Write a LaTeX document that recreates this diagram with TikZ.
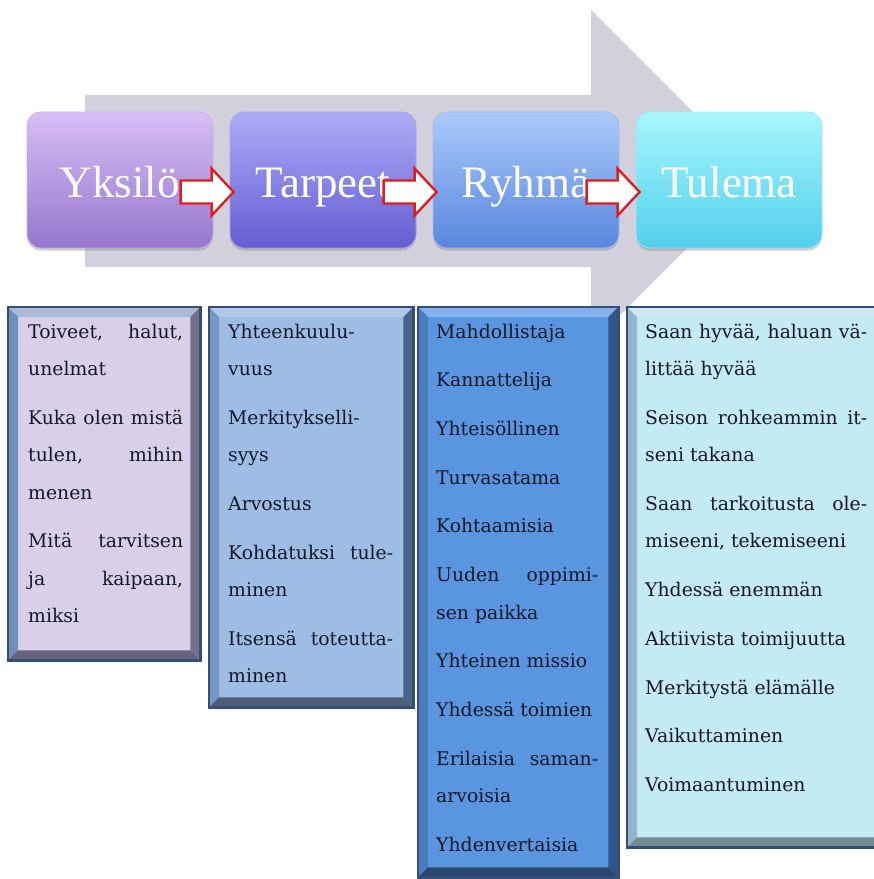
\documentclass[tikz,border=0pt]{standalone}
\usepackage{fontspec}
\setmainfont{DejaVu Serif}
\newfontfamily\headfont{Liberation Serif}
\usetikzlibrary{shadows,calc}
% header boxes
\definecolor{ykT}{RGB}{216,190,246}
\definecolor{ykB}{RGB}{150,118,204}
\definecolor{taT}{RGB}{174,172,248}
\definecolor{taB}{RGB}{100,92,210}
\definecolor{ryT}{RGB}{172,202,250}
\definecolor{ryB}{RGB}{88,134,222}
\definecolor{tuT}{RGB}{168,246,252}
\definecolor{tuB}{RGB}{82,208,236}
\definecolor{biggrey}{RGB}{211,208,222}
\definecolor{arrred}{RGB}{222,30,30}
\definecolor{txtcol}{RGB}{22,24,40}
% lower boxes
\definecolor{bAf}{RGB}{216,208,232}
\definecolor{bAt}{RGB}{172,184,214}
\definecolor{bAl}{RGB}{112,142,186}
\definecolor{bAr}{RGB}{116,112,140}
\definecolor{bAb}{RGB}{100,98,125}
\definecolor{bBf}{RGB}{158,189,228}
\definecolor{bBt}{RGB}{178,202,234}
\definecolor{bBl}{RGB}{118,150,196}
\definecolor{bBr}{RGB}{70,100,140}
\definecolor{bBb}{RGB}{78,94,122}
\definecolor{bCf}{RGB}{90,149,224}
\definecolor{bCt}{RGB}{132,176,236}
\definecolor{bCl}{RGB}{74,124,194}
\definecolor{bCr}{RGB}{50,84,138}
\definecolor{bCb}{RGB}{44,70,110}
\definecolor{bDf}{RGB}{196,234,244}
\definecolor{bDt}{RGB}{208,234,244}
\definecolor{bDl}{RGB}{146,182,204}
\definecolor{bDr}{RGB}{108,138,150}
\definecolor{bDb}{RGB}{116,140,146}
\definecolor{frame}{RGB}{52,78,116}
\newcommand\lowbevel[5]{%
  \fill[#2] (#1.north west) -- (#1.north east) -- ([shift={(-10pt,-10pt)}]#1.north east) -- ([shift={(10pt,-10pt)}]#1.north west) -- cycle;
  \fill[#3] (#1.north west) -- ([shift={(10pt,-10pt)}]#1.north west) -- ([shift={(10pt,10pt)}]#1.south west) -- (#1.south west) -- cycle;
  \fill[#4] (#1.north east) -- ([shift={(-10pt,-10pt)}]#1.north east) -- ([shift={(-10pt,10pt)}]#1.south east) -- (#1.south east) -- cycle;
  \fill[#5] (#1.south west) -- ([shift={(10pt,10pt)}]#1.south west) -- ([shift={(-10pt,10pt)}]#1.south east) -- (#1.south east) -- cycle;
  \draw[frame, line width=2.5pt] (#1.north west) rectangle (#1.south east);
}
\newcommand\redarr[1]{%
  \coordinate (tip) at ([shift={(4pt,-12pt)}]#1.west);
  \draw[redarrow] ($(tip)+(-53,-11.5)$) -- ($(tip)+(-22,-11.5)$) -- ($(tip)+(-22,-23.5)$) -- (tip)
     -- ($(tip)+(-22,23.5)$) -- ($(tip)+(-22,11.5)$) -- ($(tip)+(-53,11.5)$) -- cycle;
}
\newcommand\jl[1]{\makebox[\linewidth][s]{#1}}
\newcommand\txtsetup{\fontsize{18.8}{37.5}\selectfont\raggedright\setlength\parskip{11.2pt}\setlength\parindent{0pt}}
\begin{document}
\begin{tikzpicture}[x=1pt,y=-1pt,
  headbox/.style={rectangle, rounded corners=14pt, minimum width=186pt, minimum height=136pt,
     inner sep=0pt, draw=white!45!#1B, line width=0.8pt, top color=#1T, bottom color=#1B,
     drop shadow={shadow xshift=0pt, shadow yshift=-2.5pt, opacity=0.35, fill=black!55}},
  headlabel/.style={anchor=base, inner sep=0pt, text=white, font=\headfont\fontsize{45}{50}\selectfont},
  redarrow/.style={draw=arrred, line width=2.4pt, fill=white, line join=miter},
  lowbox/.style={rectangle, anchor=north west, inner sep=0pt},
  txt/.style={anchor=base west, inner sep=0pt, text=txtcol}]
\useasboundingbox (0,0) rectangle (874,879);
\clip (0,0) rectangle (874,879);

% big background arrow
\fill[biggrey] (85,95) -- (591,95) -- (591,10) -- (758,177) -- (591,344) -- (591,267) -- (85,267) -- cycle;

% header boxes
\node[headbox=yk] (yk) at (120,180) {};
\node[headbox=ta] (ta) at (323,180) {};
\node[headbox=ry] (ry) at (526,180) {};
\node[headbox=tu] (tu) at (729,180) {};
\node[headlabel] (lyk) at ([yshift=-17pt]yk.center) {Yksilö};
\node[headlabel] (lta) at ([yshift=-17pt]ta.center) {Tarpeet};
\node[headlabel] (lry) at ([yshift=-17pt]ry.center) {Ryhmä};
\node[headlabel] (ltu) at ([yshift=-17pt]tu.center) {Tulema};

% small red arrows
\redarr{ta}
\redarr{ry}
\redarr{tu}

% lower boxes
\node[lowbox, fill=bAf, minimum width=192pt, minimum height=353pt] (b1) at (8,307) {};
\node[lowbox, fill=bBf, minimum width=204pt, minimum height=400pt] (b2) at (209,307) {};
\node[lowbox, fill=bCf, minimum width=200pt, minimum height=570pt] (b3) at (418,307) {};
\node[lowbox, fill=bDf, minimum width=262pt, minimum height=540pt] (b4) at (627,307) {};
\lowbevel{b1}{bAt}{bAl}{bAr}{bAb}
\lowbevel{b2}{bBt}{bBl}{bBr}{bBb}
\lowbevel{b3}{bCt}{bCl}{bCr}{bCb}
\lowbevel{b4}{bDt}{bDl}{bDr}{bDb}

\node[txt] (t1) at (28,338) {\parbox[t]{155pt}{\txtsetup
\jl{Toiveet, halut,}\\ unelmat\par
\jl{Kuka olen mistä}\\ \jl{tulen, mihin}\\ menen\par
\jl{Mitä tarvitsen}\\ \jl{ja kaipaan,}\\ miksi}};

\node[txt] (t2) at (228,338) {\parbox[t]{165pt}{\txtsetup
Yhteenkuulu-\\ vuus\par
Merkitykselli-\\ syys\par
Arvostus\par
\jl{Kohdatuksi tule-}\\ minen\par
\jl{Itsensä toteutta-}\\ minen}};

\node[txt] (t3) at (436,338) {\parbox[t]{162pt}{\txtsetup
Mahdollistaja\par
Kannattelija\par
Yhteisöllinen\par
Turvasatama\par
Kohtaamisia\par
\jl{Uuden oppimi-}\\ sen paikka\par
Yhteinen missio\par
Yhdessä toimien\par
\jl{Erilaisia saman-}\\ arvoisia\par
Yhdenvertaisia}};

\node[txt] (t4) at (645,338) {\parbox[t]{222pt}{\txtsetup
\jl{Saan hyvää, haluan vä-}\\ littää hyvää\par
\jl{Seison rohkeammin it-}\\ seni takana\par
\jl{Saan tarkoitusta ole-}\\ miseeni, tekemiseeni\par
Yhdessä enemmän\par
Aktiivista toimijuutta\par
Merkitystä elämälle\par
Vaikuttaminen\par
Voimaantuminen}};
\end{tikzpicture}
\end{document}
